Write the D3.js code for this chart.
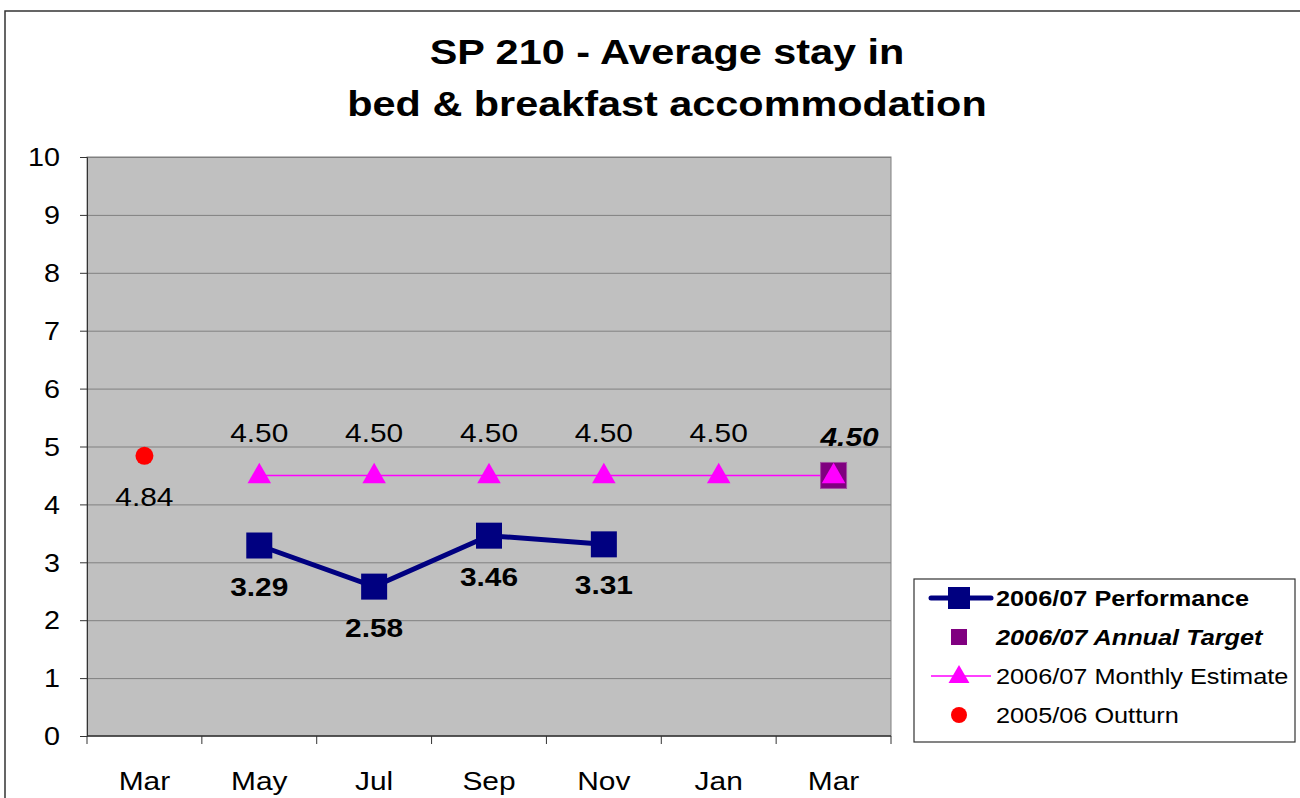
<!DOCTYPE html>
<meta charset="utf-8">
<style>
    body { margin: 0; background: #fff; }
    text { font-family: "Liberation Sans", Arial, sans-serif; fill: #000; }
    .grid line { stroke: #808080; stroke-width: 1; }
</style>
<svg width="1300" height="798"></svg>
<script src="https://cdn.jsdelivr.net/npm/d3@7"></script>
<script>
    // chart data
    var months = ["Mar", "May", "Jul", "Sep", "Nov", "Jan", "Mar2"];
    var monthLabels = ["Mar", "May", "Jul", "Sep", "Nov", "Jan", "Mar"];
    var performance = [null, 3.29, 2.58, 3.46, 3.31, null, null];
    var estimate = [null, 4.50, 4.50, 4.50, 4.50, 4.50, 4.50];
    var target = [null, null, null, null, null, null, 4.50];
    var outturn = [4.84, null, null, null, null, null, null];
    var yTicks = [0, 1, 2, 3, 4, 5, 6, 7, 8, 9, 10];

    var svg = d3.select("svg");
    var plotLeft = 87, plotRight = 891, plotTop = 157, plotBottom = 736;

    // outer chart border
    svg.append("rect")
        .attr("x", 5).attr("y", 11).attr("width", 1310).attr("height", 800)
        .attr("fill", "none").attr("stroke", "#333").attr("stroke-width", 1.5);

    var x = d3.scaleBand().domain(months).range([plotLeft, plotRight]);
    var y = d3.scaleLinear().domain([0, 10]).range([plotBottom, plotTop]);
    var cx = function (i) { return x(months[i]) + x.bandwidth() / 2; };

    // plot area
    svg.append("rect")
        .attr("x", plotLeft).attr("y", plotTop).attr("width", plotRight - plotLeft).attr("height", plotBottom - plotTop)
        .attr("fill", "#c0c0c0").attr("stroke", "#808080");

    svg.append("g").attr("class", "grid")
        .selectAll("line").data(yTicks.slice(1)).enter().append("line")
        .attr("x1", plotLeft).attr("x2", plotRight)
        .attr("y1", function (d) { return y(d) + 0.5; })
        .attr("y2", function (d) { return y(d) + 0.5; });

    // axes
    var yAxis = svg.append("g").attr("transform", "translate(" + plotLeft + ",0)")
        .call(d3.axisLeft(y).tickValues(yTicks).tickSize(7).tickPadding(20));
    yAxis.select(".domain").attr("stroke", "#333");
    yAxis.selectAll(".tick line").attr("stroke", "#333");
    yAxis.selectAll("text").style("font-size", "25px").attr("fill", "#000")
        .attr("dy", "0.35em");

    var xAxis = svg.append("g").attr("transform", "translate(0," + plotBottom + ")");
    xAxis.append("line").attr("x1", plotLeft).attr("x2", plotRight).attr("y1", 0).attr("y2", 0)
        .attr("stroke", "#333").attr("stroke-width", 1.5);
    xAxis.selectAll(".xt").data(months.concat(["end"])).enter().append("line")
        .attr("x1", function (d, i) { return plotLeft + i * x.bandwidth(); })
        .attr("x2", function (d, i) { return plotLeft + i * x.bandwidth(); })
        .attr("y1", 0).attr("y2", 8).attr("stroke", "#333");
    xAxis.selectAll("text").data(monthLabels).enter().append("text")
        .attr("x", function (d, i) { return cx(i); })
        .attr("y", 54)
        .attr("text-anchor", "middle")
        .style("font-size", "26px")
        .text(function (d) { return d; });

    // title
    var title = svg.append("text").attr("x", 667).attr("text-anchor", "middle")
        .style("font-size", "36px").style("font-weight", "bold");
    title.append("tspan").attr("x", 667).attr("y", 64).text("SP 210 - Average stay in");
    title.append("tspan").attr("x", 667).attr("y", 116).text("bed & breakfast accommodation");

    // estimate line
    var valLine = d3.line()
        .defined(function (d) { return d != null; })
        .x(function (d, i) { return cx(i); })
        .y(function (d) { return y(d); });
    svg.append("path").datum(estimate)
        .attr("d", valLine).attr("fill", "none").attr("stroke", "#ff00ff").attr("stroke-width", 1.5);

    // performance line
    svg.append("path").datum(performance)
        .attr("d", valLine).attr("fill", "none").attr("stroke", "#000080").attr("stroke-width", 5);

    // target marker
    target.forEach(function (v, i) {
        if (v == null) return;
        svg.append("rect").attr("x", cx(i) - 13).attr("y", y(v) - 13).attr("width", 26).attr("height", 26)
            .attr("fill", "#800080").attr("stroke", "#a050a0").attr("stroke-width", 1);
        svg.append("text").attr("x", cx(i) + 16).attr("y", y(v) - 29).attr("text-anchor", "middle")
            .style("font-size", "26px").style("font-weight", "bold").style("font-style", "italic")
            .text(v.toFixed(2));
    });

    // estimate triangles
    var tri = d3.symbol().type(d3.symbolTriangle).size(240);
    estimate.forEach(function (v, i) {
        if (v == null) return;
        svg.append("path").attr("d", tri)
            .attr("transform", "translate(" + cx(i) + "," + (y(v) + 1) + ")")
            .attr("fill", "#ff00ff");
        if (target[i] == null) {
            svg.append("text").attr("x", cx(i)).attr("y", y(v) - 33).attr("text-anchor", "middle")
                .style("font-size", "26px").text(v.toFixed(2));
        }
    });

    // performance squares
    performance.forEach(function (v, i) {
        if (v == null) return;
        svg.append("rect").attr("x", cx(i) - 13).attr("y", y(v) - 13).attr("width", 26).attr("height", 26)
            .attr("fill", "#000080");
        svg.append("text").attr("x", cx(i)).attr("y", y(v) + 50).attr("text-anchor", "middle")
            .style("font-size", "26px").style("font-weight", "bold").text(v.toFixed(2));
    });

    // outturn dot
    outturn.forEach(function (v, i) {
        if (v == null) return;
        svg.append("circle").attr("cx", cx(i)).attr("cy", y(v)).attr("r", 9).attr("fill", "#ff0000");
        svg.append("text").attr("x", cx(i)).attr("y", y(v) + 50).attr("text-anchor", "middle")
            .style("font-size", "26px").text(v.toFixed(2));
    });

    // legend
    var lg = svg.append("g").attr("transform", "translate(914,579)");
    lg.append("rect").attr("width", 381).attr("height", 163)
        .attr("fill", "#fff").attr("stroke", "#333").attr("stroke-width", 1.2);
    var rows = [
        {label: "2006/07 Performance", weight: "bold", style: "normal"},
        {label: "2006/07 Annual Target", weight: "bold", style: "italic"},
        {label: "2006/07 Monthly Estimate", weight: "normal", style: "normal"},
        {label: "2005/06 Outturn", weight: "normal", style: "normal"}
    ];
    var rowY = [19, 58, 97, 136];
    var mx = 45;
    lg.append("line").attr("x1", 17).attr("x2", 77).attr("y1", rowY[0]).attr("y2", rowY[0])
        .attr("stroke", "#000080").attr("stroke-width", 5).attr("stroke-linecap", "round");
    lg.append("rect").attr("x", mx - 11).attr("y", rowY[0] - 11).attr("width", 22).attr("height", 22).attr("fill", "#000080");
    lg.append("rect").attr("x", mx - 8).attr("y", rowY[1] - 8).attr("width", 16).attr("height", 16).attr("fill", "#800080");
    lg.append("line").attr("x1", 17).attr("x2", 77).attr("y1", rowY[2]).attr("y2", rowY[2])
        .attr("stroke", "#ff00ff").attr("stroke-width", 1.5);
    lg.append("path").attr("d", d3.symbol().type(d3.symbolTriangle).size(190))
        .attr("transform", "translate(" + mx + "," + (rowY[2] + 1) + ")").attr("fill", "#ff00ff");
    lg.append("circle").attr("cx", mx).attr("cy", rowY[3]).attr("r", 8).attr("fill", "#ff0000");
    lg.selectAll(".lt").data(rows).enter().append("text")
        .attr("x", 82).attr("y", function (d, i) { return rowY[i] + 8; })
        .style("font-size", "22px")
        .style("font-weight", function (d) { return d.weight; })
        .style("font-style", function (d) { return d.style; })
        .text(function (d) { return d.label; });

    // the original's type is drawn a bit wider than Arial; stretch each text horizontally
    var sx = 1.15;
    svg.selectAll("text").each(function () {
        var t = d3.select(this);
        var ax = +(t.attr("x") || 0);
        t.attr("transform", "translate(" + ax + ",0) scale(" + sx + ",1) translate(" + (-ax) + ",0)");
    });
</script>
